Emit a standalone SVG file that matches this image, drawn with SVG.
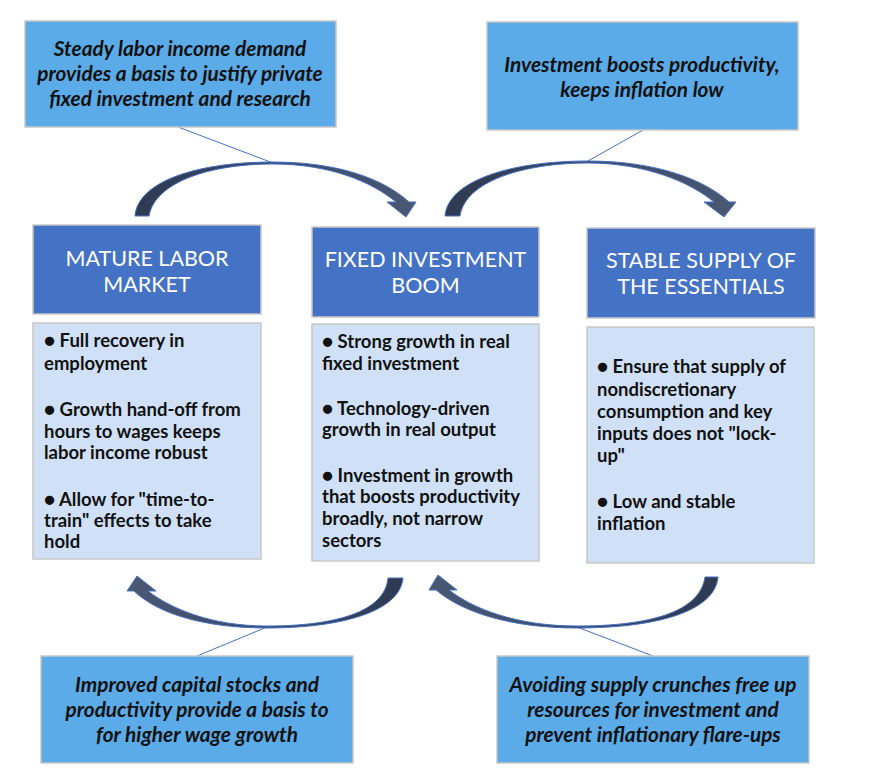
<svg xmlns="http://www.w3.org/2000/svg" width="869" height="781" viewBox="0 0 869 781">
<defs>
<linearGradient id="gR" x1="0" y1="0" x2="1" y2="0">
<stop offset="0" stop-color="#2e3a52"/>
<stop offset="1" stop-color="#4b5874"/>
</linearGradient>
<linearGradient id="gL" x1="1" y1="0" x2="0" y2="0">
<stop offset="0" stop-color="#2e3a52"/>
<stop offset="1" stop-color="#4b5874"/>
</linearGradient>
</defs>
<style>
.hdr{fill:#4472c4;stroke:#c8c8c8;stroke-width:1.5}
.body{fill:#d0e1f7;stroke:#c8c8c8;stroke-width:1.5}
.call{fill:#5aabe8;stroke:#c8c8c8;stroke-width:1.5}
.ht{font-family:Lato,"Liberation Sans",sans-serif;font-size:21.5px;fill:#ffffff;text-anchor:middle}
.bt{font-family:Lato,"Liberation Sans",sans-serif;font-size:18.5px;font-weight:bold;fill:#111111}
.ct{font-family:Lato,"Liberation Sans",sans-serif;font-size:20.8px;font-weight:bold;font-style:italic;fill:#111111;text-anchor:middle}
.ln{stroke:#4472c4;stroke-width:1;fill:none}
.arr{stroke:#4472c4;stroke-width:1}
</style>
<rect width="869" height="781" fill="#ffffff"/>

<g id="connectors">
<line class="ln" x1="178" y1="127" x2="273" y2="163"/>
<line class="ln" x1="643" y1="130" x2="588" y2="161"/>
<line class="ln" x1="267" y1="627" x2="197" y2="656"/>
<line class="ln" x1="577" y1="627" x2="653" y2="656"/>
<path id="arrow1" class="arr" fill="url(#gR)" d="M135,216 C138,181 198,162 273,162 C338,162 384,179 409,202 L416,202 L406,217 L387,202 L396,202 C372,182 330,164 273,164 C210,164 155,182 149,216 Z"/>
<path id="arrow2" class="arr" fill="url(#gR)" d="M445,216 C448,181 510,161 588,161 C655,161 704,179 729,202 L736,202 L724,217 L704,202 L714,202 C690,182 645,163 588,163 C522,163 465,182 460,216 Z"/>
<path id="arrow3" class="arr" fill="url(#gL)" d="M403,578 C400,612 340,628 267,628 C200,628 156,612 134,591 L127,591 L137,576 L156,591 L148,591 C170,608 210,626 267,626 C335,626 385,612 388,578 Z"/>
<path id="arrow4" class="arr" fill="url(#gL)" d="M718,577 C715,612 655,628 577,628 C510,628 462,612 436,590 L429,590 L438,575 L457,590 L449,590 C472,608 515,626 577,626 C650,626 700,612 705,577 Z"/>
</g>

<g id="callout-top-left">
<rect class="call" x="25" y="21" width="311" height="106"/>
<text class="ct" x="180" y="56">Steady labor income demand</text>
<text class="ct" x="180" y="81">provides a basis to justify private</text>
<text class="ct" x="180" y="106">fixed investment and research</text>
</g>

<g id="callout-top-right">
<rect class="call" x="487" y="22" width="311" height="108"/>
<text class="ct" x="642" y="72">Investment boosts productivity,</text>
<text class="ct" x="642" y="97">keeps inflation low</text>
</g>

<g id="mature-labor-market">
<rect class="hdr" x="33" y="225" width="228" height="89"/>
<text class="ht" x="147" y="266">MATURE LABOR</text>
<text class="ht" x="147" y="292">MARKET</text>
<rect class="body" x="33" y="323" width="228" height="236"/>
<text class="bt" x="44" y="347">● Full recovery in</text>
<text class="bt" x="44" y="370">employment</text>
<text class="bt" x="44" y="416">● Growth hand-off from</text>
<text class="bt" x="44" y="438">hours to wages keeps</text>
<text class="bt" x="44" y="459">labor income robust</text>
<text class="bt" x="44" y="506">● Allow for "time-to-</text>
<text class="bt" x="44" y="527">train" effects to take</text>
<text class="bt" x="44" y="548">hold</text>
</g>

<g id="fixed-investment-boom">
<rect class="hdr" x="312" y="227" width="227" height="90"/>
<text class="ht" x="425.5" y="267">FIXED INVESTMENT</text>
<text class="ht" x="425.5" y="293">BOOM</text>
<rect class="body" x="312" y="324" width="227" height="237"/>
<text class="bt" x="322" y="348">● Strong growth in real</text>
<text class="bt" x="322" y="370">fixed investment</text>
<text class="bt" x="322" y="415">● Technology-driven</text>
<text class="bt" x="322" y="436">growth in real output</text>
<text class="bt" x="322" y="482">● Investment in growth</text>
<text class="bt" x="322" y="503">that boosts productivity</text>
<text class="bt" x="322" y="525">broadly, not narrow</text>
<text class="bt" x="322" y="547">sectors</text>
</g>

<g id="stable-supply">
<rect class="hdr" x="587" y="228" width="228" height="90"/>
<text class="ht" x="701" y="268">STABLE SUPPLY OF</text>
<text class="ht" x="701" y="294">THE ESSENTIALS</text>
<rect class="body" x="587" y="327" width="227" height="236"/>
<text class="bt" x="597" y="373">● Ensure that supply of</text>
<text class="bt" x="597" y="396">nondiscretionary</text>
<text class="bt" x="597" y="418">consumption and key</text>
<text class="bt" x="597" y="440">inputs does not "lock-</text>
<text class="bt" x="597" y="462">up"</text>
<text class="bt" x="597" y="508">● Low and stable</text>
<text class="bt" x="597" y="530">inflation</text>
</g>

<g id="callout-bottom-left">
<rect class="call" x="41" y="656" width="312" height="107"/>
<text class="ct" x="197" y="692">Improved capital stocks and</text>
<text class="ct" x="197" y="717">productivity  provide a basis to</text>
<text class="ct" x="197" y="742">for higher wage growth</text>
</g>

<g id="callout-bottom-right">
<rect class="call" x="497" y="656" width="312" height="107"/>
<text class="ct" x="653" y="692">Avoiding supply crunches free up</text>
<text class="ct" x="653" y="717">resources for investment and</text>
<text class="ct" x="653" y="742">prevent inflationary flare-ups</text>
</g>
</svg>
